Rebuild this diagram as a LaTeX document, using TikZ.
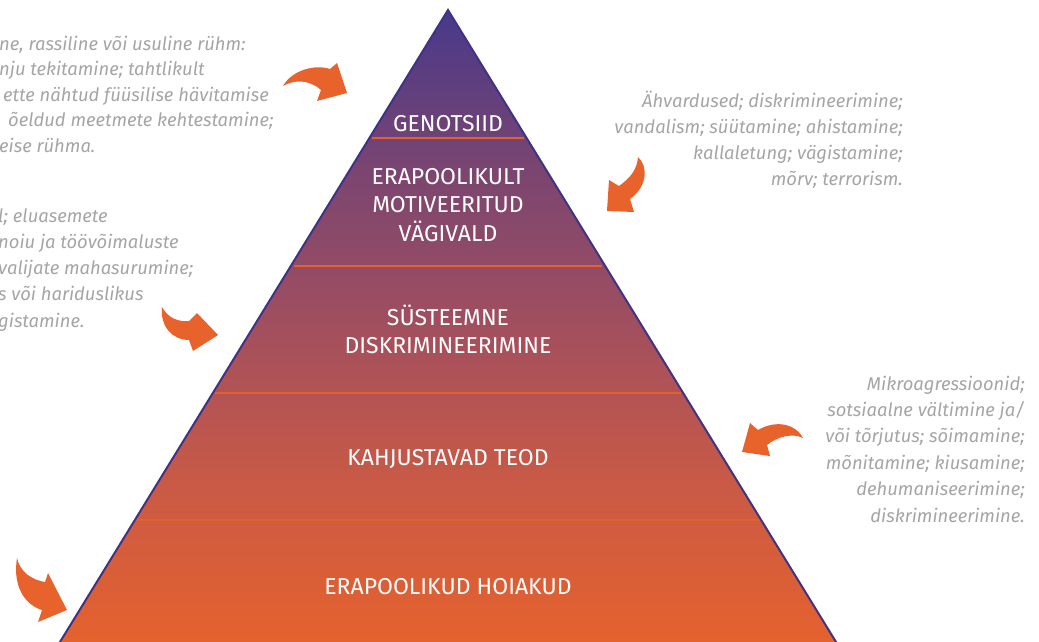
\documentclass[tikz,border=0pt]{standalone}
\usepackage{fontspec}
\setmainfont{Fira Sans}
\usetikzlibrary{calc}
\definecolor{arrowor}{HTML}{E8632C}
\definecolor{sepor}{HTML}{E5602A}
\definecolor{outl}{HTML}{3E3384}
\definecolor{txtgray}{HTML}{A5A5A5}
\definecolor{c0}{HTML}{E5622D}
\definecolor{c1}{HTML}{CA5A45}
\definecolor{c2}{HTML}{A24F5E}
\definecolor{c3}{HTML}{7A4571}
\definecolor{c4}{HTML}{48398A}
\pgfdeclareverticalshading{pyr}{100bp}{color(0bp)=(c0); color(25bp)=(c0); color(37.5bp)=(c1); color(50bp)=(c2); color(62.5bp)=(c3); color(75bp)=(c4); color(100bp)=(c4)}
\tikzset{
  lvl/.style={text=white, align=center, inner sep=0pt, font=\fontsize{23}{28.5}\selectfont},
  side/.style={text=txtgray, inner sep=0pt, font=\fontsize{18.4}{26}\selectfont\itshape},
  sepline/.style={draw=sepor, line width=1.5pt},
  bigarrow/.style={fill=arrowor, draw=none},
}
\begin{document}
\begin{tikzpicture}[x=1pt,y=-1pt]
\useasboundingbox (0,0) rectangle (1039,641);
\coordinate (A) at (448,10);
\coordinate (BL) at (57.5,646);
\coordinate (BR) at (838.5,646);
% pyramid
\shade[shading=pyr] (A) -- (BL) -- (BR) -- cycle;
\draw[outl, line width=2pt, line join=miter] (BL) -- (A) -- (BR);
% separators
\foreach \yy in {138,266,393,520}{
  \pgfmathsetmacro{\hw}{0.6149*(\yy-10)-3}
  \draw[sepline] (448-\hw,\yy) -- (448+\hw,\yy);
}
% level labels
\node[lvl] (l1) at (448,124) {GENOTSIID};
\node[lvl] (l2) at (448,205) {ERAPOOLIKULT\\MOTIVEERITUD\\VÄGIVALD};
\node[lvl] (l3) at (448,329.5) {SÜSTEEMNE\\DISKRIMINEERIMINE};
\node[lvl] (l4) at (448,459.5) {KAHJUSTAVAD TEOD};
\node[lvl] (l5) at (448,586.5) {ERAPOOLIKUD HOIAKUD};
% side texts (anchored at the baseline of their last line)
\node[side, align=left, anchor=base west, font=\fontsize{18.4}{25.5}\selectfont\itshape] (t1) at (-1,152) {ne, rassiline või usuline rühm:\\nju tekitamine; tahtlikult\\\hspace*{4pt}ette nähtud füüsilise hävitamise\\\hspace*{9pt}õeldud meetmete kehtestamine;\\eise rühma.};
\node[side, align=left, anchor=base west, font=\fontsize{18.4}{26.2}\selectfont\itshape] (t2) at (-2,327) {l; eluasemete\\noiu ja töövõimaluste\\valijate mahasurumine;\\s või hariduslikus\\gistamine.};
\node[side, align=right, anchor=base east] (t3) at (903,185) {Ähvardused; diskrimineerimine;\\vandalism; süütamine; ahistamine;\\kallaletung; vägistamine;\\mõrv; terrorism.};
\node[side, align=right, anchor=base east, font=\fontsize{18.4}{26.4}\selectfont\itshape] (t4) at (1025,522) {Mikroagressioonid;\\sotsiaalne vältimine ja/\\või tõrjutus; sõimamine;\\mõnitamine; kiusamine;\\dehumaniseerimine;\\diskrimineerimine.};
% arrows
\fill[bigarrow] (283,86) .. controls (292,70) and (315,64) .. (330,69) -- (337,63) -- (347,93) -- (317,101) -- (321,90) .. controls (310,80) and (295,79) .. cycle;
\fill[bigarrow] (638,157) .. controls (648,166) and (648,186) .. (630,199) -- (634,212) -- (607,211) -- (609,180) -- (619,186) .. controls (630,178) and (637,170) .. cycle;
\fill[bigarrow] (162,307) .. controls (168,318) and (178,322) .. (189,321) -- (197,313) -- (218,335) -- (193,351) -- (189,340) .. controls (172,340) and (160,326) .. cycle;
\fill[bigarrow] (803,438) .. controls (795,423) and (775,420) .. (758,430) -- (750,423) -- (742,452) -- (770,456) -- (767,445) .. controls (778,436) and (793,433) .. cycle;
\fill[bigarrow] (17,558) .. controls (20,572) and (32,580) .. (45,582) -- (48,573) -- (67,610) -- (38,622) -- (42,610) .. controls (28,606) and (12,590) .. cycle;
\end{tikzpicture}
\end{document}
